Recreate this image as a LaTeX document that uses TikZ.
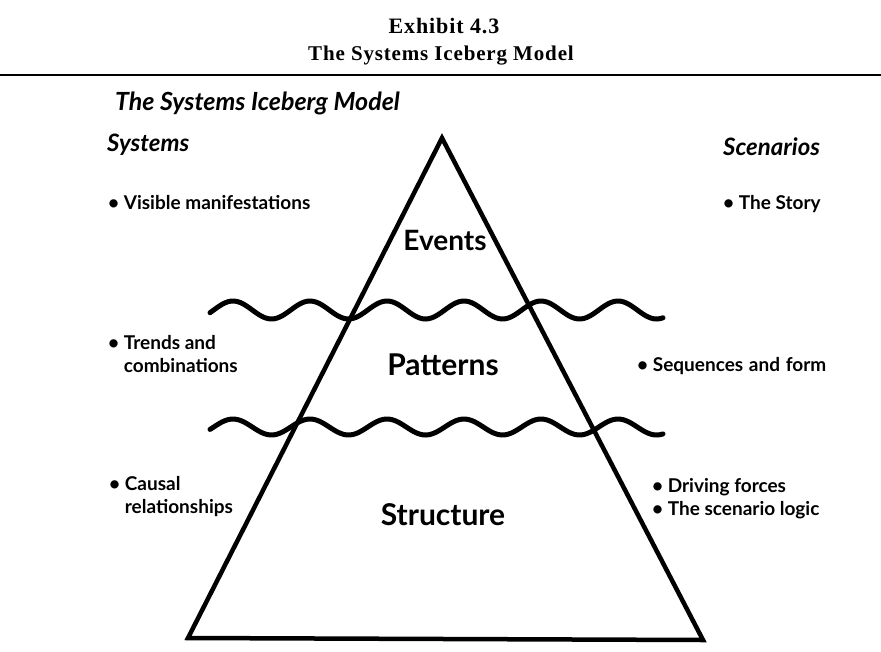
\documentclass[tikz,border=0pt]{standalone}
\usepackage{fontspec}
\setmainfont{Liberation Serif}
\setsansfont{Lato}
\newfontfamily\exhibitfont[LetterSpace=4]{Liberation Serif}
\usepackage{tikz}
\usetikzlibrary{positioning}

\begin{document}
\begin{tikzpicture}[x=1pt,y=-1pt,
    iceberg/.style={line width=4.5pt,line join=miter},
    waterline/.style={line width=5pt,line cap=round},
    sidelabel/.style={font=\sffamily\bfseries\fontsize{19}{23}\selectfont,inner sep=0pt,align=left},
    layerlabel/.style={font=\sffamily\bfseries\fontsize{30}{34}\selectfont,inner sep=0pt},
    colhead/.style={font=\sffamily\bfseries\itshape\fontsize{24}{26}\selectfont,inner sep=0pt}]

  \useasboundingbox (0,0) rectangle (881,651);

  % exhibit heading
  \node[font=\exhibitfont\bfseries\fontsize{22}{26}\selectfont,inner sep=0pt,anchor=base] (exhibit) at (444,33) {Exhibit 4.3};
  \node[font=\exhibitfont\bfseries\fontsize{21}{26}\selectfont,inner sep=0pt,anchor=base] (exhibitname) at (441,60) {The Systems Iceberg Model};
  \draw[line width=2.5pt] (0,75) -- (881,75);

  \node[font=\sffamily\bfseries\itshape\fontsize{25}{28}\selectfont,inner sep=0pt,anchor=base west] (title) at (115,110) {The Systems Iceberg Model};

  % iceberg
  \coordinate (apex) at (442,138);
  \coordinate (baseleft) at (188,638);
  \coordinate (baseright) at (703,640);
  \draw[iceberg] (apex) -- (baseleft) -- (baseright) -- cycle;

  \draw[waterline] plot[domain=210:663,samples=150,smooth] (\x,{310-9*sin((\x-213.75)*4.675)});
  \draw[waterline] plot[domain=210:663,samples=150,smooth] (\x,{427-8*sin((\x-213.75)*4.675)});

  \node[layerlabel,font=\sffamily\bfseries\fontsize{28}{32}\selectfont,anchor=base] (events) at (445,250) {Events};
  \node[layerlabel,anchor=base] (patterns) at (443,375) {Patterns};
  \node[layerlabel,anchor=base] (structure) at (443,525) {Structure};

  % systems side
  \node[colhead,anchor=base west] (systems) at (107,151) {Systems};
  \node[sidelabel,anchor=base west] (visible) at (108,209) {\textbullet\ Visible manifestations};
  \node[sidelabel,anchor=north west] (trends) at (108,335) {\textbullet\ Trends and\\\phantom{\textbullet\ }combinations};
  \node[sidelabel,anchor=north west] (causal) at (109,476) {\textbullet\ Causal\\\phantom{\textbullet\ }relationships};

  % scenarios side
  \node[colhead,anchor=base west] (scenarios) at (723,155) {Scenarios};
  \node[sidelabel,anchor=base west] (story) at (723,209) {\textbullet\ The Story};
  \node[sidelabel,anchor=base west] (sequences) at (637,371) {\textbullet\ Sequences\hspace{0.3em}and\hspace{0.3em}form};
  \node[sidelabel,anchor=north west] (driving) at (652,478) {\textbullet\ Driving forces\\\textbullet\ The scenario logic};
\end{tikzpicture}
\end{document}
